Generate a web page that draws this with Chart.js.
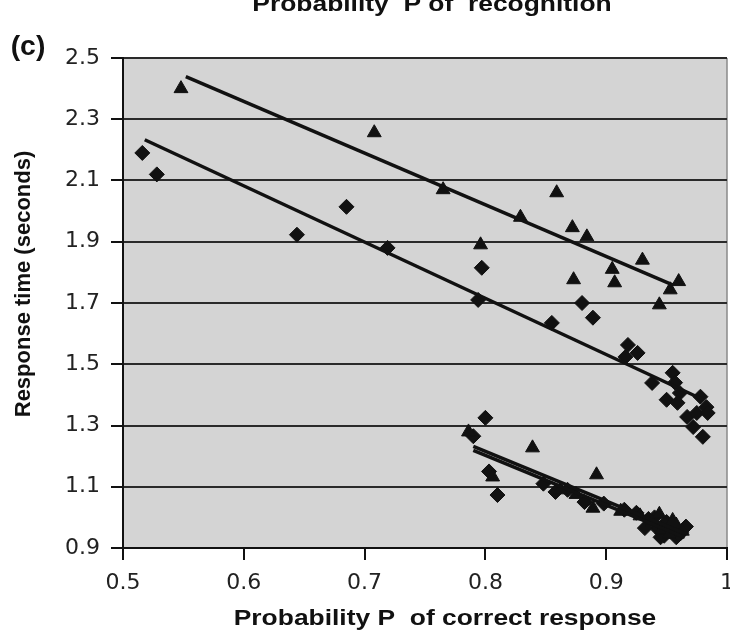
<!DOCTYPE html>
<html lang="en">
<head>
<meta charset="utf-8">
<title>Response time vs probability</title>
<script src="https://cdn.jsdelivr.net/npm/chart.js@4.4.0/dist/chart.umd.min.js"></script>
<style>
    body { margin: 0; background: #fff; }
    #wrap { width: 730px; height: 642px; overflow: hidden; position: relative; }
    #myChart { display: block; }
</style>
</head>
<body>
<div id="wrap"><canvas id="myChart" width="744" height="642"></canvas></div>
<script>
// values
const upperTriP  = [0.548, 0.708, 0.765, 0.796, 0.829, 0.859, 0.872, 0.884, 0.873, 0.905, 0.907, 0.930, 0.953, 0.960, 0.944];
const upperTriRT = [2.400, 2.256, 2.070, 1.890, 1.980, 2.060, 1.946, 1.916, 1.776, 1.810, 1.766, 1.840, 1.743, 1.770, 1.694];

const upperDiaP  = [0.516, 0.528, 0.644, 0.685, 0.719, 0.797, 0.794, 0.855, 0.880, 0.889, 0.918, 0.926, 0.916, 0.938, 0.955, 0.957, 0.950, 0.961, 0.959, 0.978, 0.983, 0.967, 0.975, 0.972, 0.980, 0.984];
const upperDiaRT = [2.190, 2.120, 1.923, 2.014, 1.880, 1.815, 1.710, 1.635, 1.700, 1.652, 1.563, 1.537, 1.524, 1.439, 1.472, 1.440, 1.384, 1.406, 1.374, 1.394, 1.360, 1.328, 1.341, 1.295, 1.263, 1.341];

const lowerTriP  = [0.786, 0.806, 0.839, 0.892, 0.889, 0.862, 0.875, 0.912, 0.928, 0.938, 0.946, 0.952, 0.958, 0.963, 0.944, 0.955];
const lowerTriRT = [1.279, 1.132, 1.227, 1.139, 1.030, 1.090, 1.075, 1.020, 1.005, 0.985, 0.960, 0.945, 0.975, 0.955, 1.010, 0.990];

const lowerDiaP  = [0.800, 0.803, 0.810, 0.790, 0.848, 0.858, 0.868, 0.882, 0.898, 0.915, 0.925, 0.935, 0.942, 0.948, 0.953, 0.958, 0.962, 0.966, 0.950, 0.940, 0.960, 0.945, 0.932];
const lowerDiaRT = [1.325, 1.150, 1.073, 1.265, 1.110, 1.083, 1.090, 1.050, 1.045, 1.025, 1.015, 0.995, 0.965, 0.940, 0.955, 0.935, 0.950, 0.970, 0.985, 1.000, 0.945, 0.935, 0.965];

// trend lines (end points)
const fitTriP = [0.552, 0.955],     fitTriRT = [2.439, 1.759];
const fitDiaP = [0.518, 0.980],     fitDiaRT = [2.233, 1.385];
const fitLowTriP = [0.790, 0.965],  fitLowTriRT = [1.232, 0.948];
const fitLowDiaP = [0.790, 0.965],  fitLowDiaRT = [1.219, 0.935];

const xTickLabels = ['0.5', '0.6', '0.7', '0.8', '0.9', '1'];
const yTickLabels = ['0.9', '1.1', '1.3', '1.5', '1.7', '1.9', '2.1', '2.3', '2.5'];

function pts(xs, ys) {
  return xs.map((x, i) => ({x: x, y: ys[i]}));
}

const ink = '#111';

function markers(label, xs, ys, style) {
  return {
    label: label,
    data: pts(xs, ys),
    pointStyle: style,
    pointRadius: style === 'triangle' ? 8 : 7.5,
    backgroundColor: ink,
    borderColor: ink,
    borderWidth: 1,
    showLine: false
  };
}

function fit(label, xs, ys) {
  return {
    label: label,
    data: pts(xs, ys),
    showLine: true,
    borderColor: ink,
    borderWidth: 3.5,
    pointRadius: 0,
    fill: false
  };
}

// grey plot area + right edge
const plotBg = {
  id: 'plotBg',
  beforeDraw(chart) {
    const {ctx, chartArea: a} = chart;
    ctx.save();
    ctx.fillStyle = '#d4d4d4';
    ctx.fillRect(a.left, a.top, a.right - a.left, a.bottom - a.top);
    ctx.strokeStyle = '#8a8a8a';
    ctx.lineWidth = 1.5;
    ctx.beginPath();
    ctx.moveTo(a.right, a.top);
    ctx.lineTo(a.right, a.bottom);
    ctx.stroke();
    ctx.restore();
  }
};

// titles (the source picture is stretched sideways, so horizontal text is too)
const texts = {
  id: 'texts',
  afterDraw(chart) {
    const ctx = chart.ctx;
    ctx.save();
    ctx.fillStyle = ink;
    ctx.textAlign = 'center';
    ctx.textBaseline = 'alphabetic';

    function wide(txt, x, y, size, sx) {
      ctx.save();
      ctx.translate(x, y);
      ctx.scale(sx, 1);
      ctx.font = 'bold ' + size + 'px "Liberation Sans", Arial, sans-serif';
      ctx.fillText(txt, 0, 0);
      ctx.restore();
    }
    wide('Probability  P of  recognition', 432, 11, 22, 1.2);
    wide('(c)', 28, 55, 27, 1.05);
    wide('Probability P  of correct response', 445, 625, 22, 1.2);

    ctx.save();
    ctx.translate(30, 284);
    ctx.rotate(-Math.PI / 2);
    ctx.font = 'bold 22px "Liberation Sans", Arial, sans-serif';
    ctx.fillText('Response time (seconds)', 0, 0);
    ctx.restore();
    ctx.restore();
  }
};

const config = {
  type: 'scatter',
  data: {
    datasets: [
      fit('fit recognition', fitTriP, fitTriRT),
      fit('fit correct', fitDiaP, fitDiaRT),
      fit('fit recognition 2', fitLowTriP, fitLowTriRT),
      fit('fit correct 2', fitLowDiaP, fitLowDiaRT),
      markers('recognition', upperTriP, upperTriRT, 'triangle'),
      markers('correct', upperDiaP, upperDiaRT, 'rectRot'),
      markers('recognition 2', lowerTriP, lowerTriRT, 'triangle'),
      markers('correct 2', lowerDiaP, lowerDiaRT, 'rectRot')
    ]
  },
  options: {
    responsive: false,
    animation: false,
    devicePixelRatio: 1,
    layout: { padding: { top: 58, right: 13, left: 0, bottom: 0 } },
    plugins: {
      legend: { display: false },
      tooltip: { enabled: false }
    },
    scales: {
      x: {
        type: 'linear',
        min: 0.5,
        max: 1,
        afterBuildTicks(scale) {
          scale.ticks = xTickLabels.map(t => ({value: parseFloat(t)}));
        },
        afterFit(scale) { scale.height = 94; },
        border: { color: ink, width: 2 },
        grid: {
          drawOnChartArea: false,
          drawTicks: true,
          tickLength: 12,
          color: ink,
          lineWidth: 2
        },
        ticks: {
          padding: 10,
          color: '#222',
          font: { family: '"DejaVu Sans", sans-serif', size: 22 },
          callback: (v, i) => xTickLabels[i]
        }
      },
      y: {
        type: 'linear',
        min: 0.9,
        max: 2.5,
        afterBuildTicks(scale) {
          scale.ticks = yTickLabels.map(t => ({value: parseFloat(t)}));
        },
        afterFit(scale) { scale.width = 123; },
        border: { color: ink, width: 2 },
        grid: {
          color: '#2a2a2a',
          lineWidth: 2,
          drawTicks: true,
          tickLength: 12,
          tickColor: ink
        },
        ticks: {
          padding: 11,
          color: '#222',
          font: { family: '"DejaVu Sans", sans-serif', size: 22 },
          callback: (v, i) => yTickLabels[i]
        }
      }
    }
  },
  plugins: [plotBg, texts]
};

const myChart = new Chart(document.getElementById('myChart'), config);
</script>
</body>
</html>
